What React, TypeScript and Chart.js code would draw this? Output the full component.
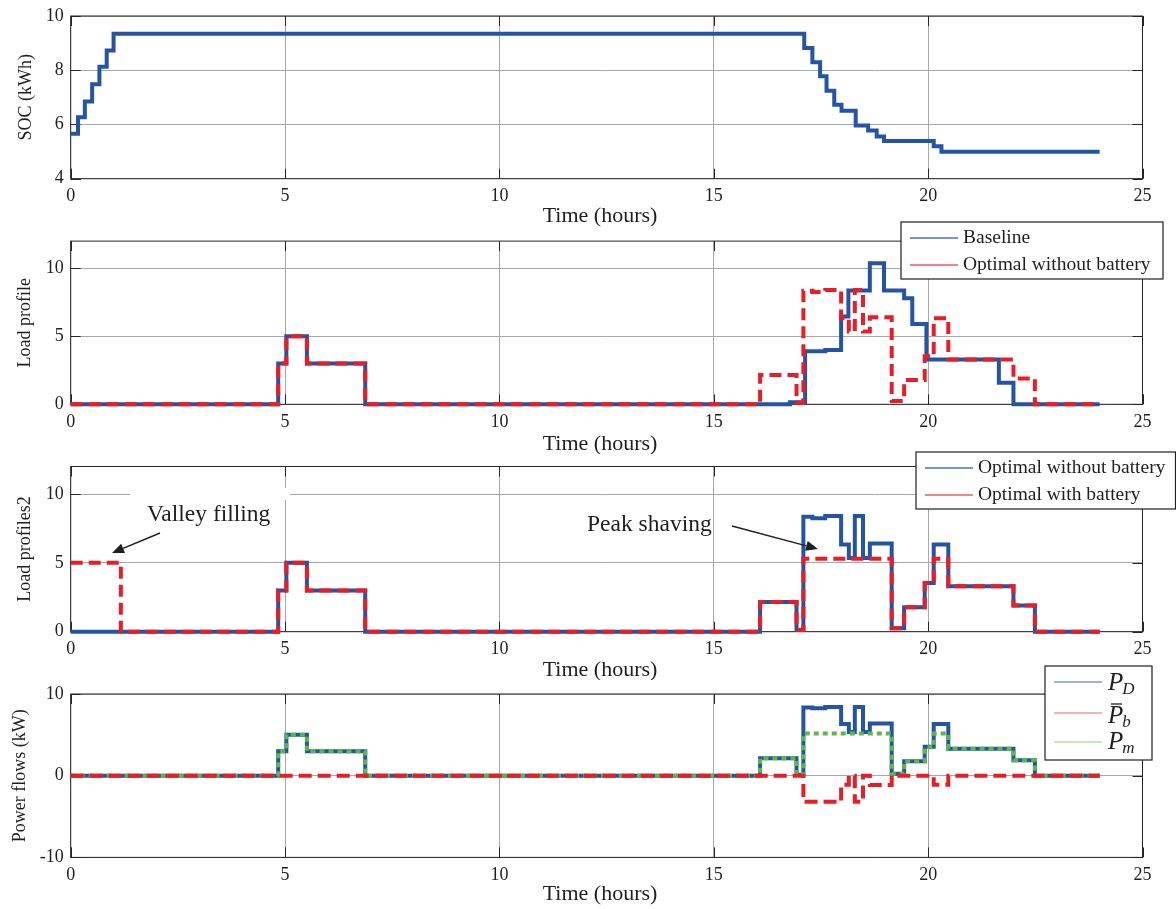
import React, { useEffect, useRef } from 'react';
import { Chart, registerables } from 'chart.js';

Chart.register(...registerables);

// ---------------- data (hours / values) ----------------
const xTickValues = [0, 5, 10, 15, 20, 25];

// Panel 1: battery state of charge
const socT = [0, 0.17, 0.33, 0.5, 0.67, 0.84, 1.0, 17.11, 17.3, 17.48, 17.63, 17.81, 17.98, 18.31, 18.6, 18.8, 18.97, 20.13, 20.31, 24];
const socV = [5.66, 6.27, 6.85, 7.48, 8.13, 8.73, 9.35, 8.82, 8.29, 7.78, 7.24, 6.73, 6.51, 5.96, 5.78, 5.56, 5.39, 5.2, 4.99, 4.99];

// Panel 2: baseline load
const baseT = [0, 4.84, 5.03, 5.51, 6.87, 16.78, 17.13, 17.6, 17.97, 18.14, 18.64, 18.97, 19.44, 19.63, 19.96, 21.65, 21.99, 24];
const baseV = [0, 3.0, 5.0, 3.0, 0, 0.15, 3.9, 4.0, 6.46, 8.36, 10.37, 8.36, 7.8, 5.9, 3.3, 1.59, 0, 0];

// Optimal without battery (panel 2 red, panel 3 blue, panel 4 P_D)
const optT = [0, 4.84, 5.03, 5.51, 6.87, 16.08, 16.93, 17.09, 17.3, 17.6, 17.97, 18.15, 18.29, 18.48, 18.64, 19.15, 19.44, 19.92, 20.13, 20.47, 21.99, 22.49, 24];
const optV = [0, 3.0, 5.0, 3.0, 0, 2.15, 0.12, 8.35, 8.25, 8.4, 6.33, 5.36, 8.4, 5.36, 6.4, 0.25, 1.78, 3.53, 6.33, 3.3, 1.9, 0, 0];

// Optimal with battery (panel 3 red)
const withT = [0, 1.17, 4.84, 5.03, 5.51, 6.87, 16.08, 16.93, 17.09, 19.15, 19.44, 19.92, 20.13, 20.47, 21.99, 22.49, 24];
const withV = [5.0, 0, 3.0, 5.0, 3.0, 0, 2.15, 0.12, 5.3, 0.25, 1.78, 3.53, 5.3, 3.3, 1.9, 0, 0];

// Panel 4: P_m (grid power) and battery power
const pmT = [0, 4.84, 5.03, 5.51, 6.87, 16.08, 16.93, 17.09, 19.15, 19.44, 19.92, 20.13, 20.47, 21.99, 22.49, 24];
const pmV = [0, 3.0, 5.0, 3.0, 0, 2.15, 0.12, 5.15, 0.25, 1.78, 3.47, 5.15, 3.3, 1.9, 0, 0];
const pbT = [0, 17.09, 17.97, 18.15, 18.29, 18.48, 18.64, 19.15, 20.13, 20.47, 24];
const pbV = [0, -3.2, -1.1, 0, -3.2, 0, -1.15, 0, -1.1, 0, 0];

// ---------------- styling ----------------
const W = 1176;
const PLOT_L = 70.7;
const PLOT_R = 1142.5;
const SERIF = "'Liberation Serif', 'Times New Roman', serif";
const BLUE = '#2454a6';
const RED = '#ed1c24';
const GREEN = '#5cb947';
const INK = '#1f1f1f';
const GRID = '#a8a8a8';
const TICK_FONT = 18;
const TITLE_FONT = 18;
const XTITLE_FONT = 22;
const XTITLE_X = 600;

type Series = { t: number[]; v: number[]; color: string; dash?: number[]; order: number };
type PanelSpec = {
  top: number;
  height: number;
  plotTop: number;
  plotBottom: number;
  yMin: number;
  yMax: number;
  yStep: number;
  yTitle: string;
  yTitleX: number;
  xTitleY: number;
  series: Series[];
  overlay?: (ctx: CanvasRenderingContext2D) => void;
};

function legendBox(ctx: CanvasRenderingContext2D, x1: number, y1: number, x2: number, y2: number) {
  ctx.fillStyle = '#ffffff';
  ctx.fillRect(x1, y1, x2 - x1, y2 - y1);
  ctx.strokeStyle = INK;
  ctx.lineWidth = 1.2;
  ctx.strokeRect(x1, y1, x2 - x1, y2 - y1);
}

function legendLine(ctx: CanvasRenderingContext2D, x1: number, x2: number, y: number, color: string) {
  ctx.strokeStyle = color;
  ctx.lineWidth = 1.6;
  ctx.setLineDash([]);
  ctx.beginPath();
  ctx.moveTo(x1, y);
  ctx.lineTo(x2, y);
  ctx.stroke();
}

function legendText(ctx: CanvasRenderingContext2D, x: number, y: number, text: string) {
  ctx.fillStyle = INK;
  ctx.font = `19.5px ${SERIF}`;
  ctx.textAlign = 'left';
  ctx.textBaseline = 'middle';
  ctx.fillText(text, x, y);
}

function arrow(ctx: CanvasRenderingContext2D, x1: number, y1: number, x2: number, y2: number) {
  const ang = Math.atan2(y2 - y1, x2 - x1);
  const hl = 12;
  const hw = 5;
  const bx = x2 - hl * Math.cos(ang);
  const by = y2 - hl * Math.sin(ang);
  ctx.strokeStyle = INK;
  ctx.fillStyle = INK;
  ctx.lineWidth = 1.5;
  ctx.setLineDash([]);
  ctx.beginPath();
  ctx.moveTo(x1, y1);
  ctx.lineTo(bx, by);
  ctx.stroke();
  ctx.beginPath();
  ctx.moveTo(x2, y2);
  ctx.lineTo(bx + hw * Math.sin(ang), by - hw * Math.cos(ang));
  ctx.lineTo(bx - hw * Math.sin(ang), by + hw * Math.cos(ang));
  ctx.closePath();
  ctx.fill();
}

function annot(ctx: CanvasRenderingContext2D, x: number, y: number, text: string) {
  ctx.fillStyle = INK;
  ctx.font = `23.5px ${SERIF}`;
  ctx.textAlign = 'left';
  ctx.textBaseline = 'middle';
  ctx.fillText(text, x, y);
}

function mathP(ctx: CanvasRenderingContext2D, x: number, base: number, sub: string, bar: boolean) {
  ctx.fillStyle = INK;
  ctx.textAlign = 'left';
  ctx.textBaseline = 'alphabetic';
  ctx.font = `italic 25px ${SERIF}`;
  ctx.fillText('P', x, base);
  const pw = ctx.measureText('P').width;
  if (bar) {
    ctx.strokeStyle = INK;
    ctx.lineWidth = 1.3;
    ctx.beginPath();
    ctx.moveTo(x + 3, base - 19);
    ctx.lineTo(x + 14, base - 19);
    ctx.stroke();
  }
  ctx.font = `italic 17px ${SERIF}`;
  ctx.fillText(sub, x + pw - 1, base + 4);
}

const PANELS: PanelSpec[] = [
  {
    top: 0,
    height: 228,
    plotTop: 14.6,
    plotBottom: 178.7,
    yMin: 4,
    yMax: 10,
    yStep: 2,
    yTitle: 'SOC (kWh)',
    yTitleX: 26.7,
    xTitleY: 216,
    series: [{ t: socT, v: socV, color: BLUE, order: 0 }],
  },
  {
    top: 210,
    height: 244,
    plotTop: 241.1,
    plotBottom: 404.3,
    yMin: 0,
    yMax: 12,
    yStep: 5,
    yTitle: 'Load profile',
    yTitleX: 25.5,
    xTitleY: 444,
    series: [
      { t: baseT, v: baseV, color: BLUE, order: 1 },
      { t: optT, v: optV, color: RED, dash: [12, 6], order: 0 },
    ],
    overlay: (ctx) => {
      legendBox(ctx, 901, 222, 1163, 279);
      legendLine(ctx, 910, 958, 238, '#4a74c4');
      legendText(ctx, 963, 238, 'Baseline');
      legendLine(ctx, 910, 958, 265, '#f2585e');
      legendText(ctx, 963, 265, 'Optimal without battery');
    },
  },
  {
    top: 440,
    height: 240,
    plotTop: 466.5,
    plotBottom: 631.7,
    yMin: 0,
    yMax: 12,
    yStep: 5,
    yTitle: 'Load profiles2',
    yTitleX: 25.5,
    xTitleY: 670,
    series: [
      { t: optT, v: optV, color: BLUE, order: 1 },
      { t: withT, v: withV, color: RED, dash: [12, 6], order: 0 },
    ],
    overlay: (ctx) => {
      ctx.fillStyle = '#ffffff';
      ctx.fillRect(130, 488, 160, 12);
      annot(ctx, 147, 515, 'Valley filling');
      arrow(ctx, 160, 533, 112, 553);
      annot(ctx, 587, 525, 'Peak shaving');
      arrow(ctx, 732, 526, 818, 549);
      legendBox(ctx, 916, 452, 1175.5, 509);
      legendLine(ctx, 925, 973, 468, '#4a74c4');
      legendText(ctx, 978, 468, 'Optimal without battery');
      legendLine(ctx, 925, 973, 495, '#f2585e');
      legendText(ctx, 978, 495, 'Optimal with battery');
    },
  },
  {
    top: 655,
    height: 254,
    plotTop: 694,
    plotBottom: 857.4,
    yMin: -10,
    yMax: 10,
    yStep: 10,
    yTitle: 'Power flows (kW)',
    yTitleX: 20,
    xTitleY: 894,
    series: [
      { t: optT, v: optV, color: BLUE, order: 2 },
      { t: pmT, v: pmV, color: GREEN, dash: [5, 4], order: 1 },
      { t: pbT, v: pbV, color: RED, dash: [13, 6], order: 0 },
    ],
    overlay: (ctx) => {
      legendBox(ctx, 1045, 666, 1152, 760);
      legendLine(ctx, 1054, 1102, 682, '#7f9ad0');
      mathP(ctx, 1108, 690, 'D', false);
      legendLine(ctx, 1054, 1102, 713, '#f49a9a');
      mathP(ctx, 1108, 723, 'b', true);
      legendLine(ctx, 1054, 1102, 742, '#b6e0b0');
      mathP(ctx, 1108, 749, 'm', false);
    },
  },
];

function makeConfig(p: PanelSpec): any {
  const xAxisH = p.top + p.height - p.plotBottom;
  const titleLH = TITLE_FONT; // lineHeight 1
  const yTitlePadTop = Math.max(0, p.yTitleX - titleLH / 2);

  const framePlugin = {
    id: 'matlabFrame',
    beforeDatasetsDraw(chart: any) {
      const { ctx, chartArea: a, scales } = chart;
      ctx.save();
      ctx.strokeStyle = '#262626';
      ctx.lineWidth = 1;
      ctx.setLineDash([]);
      ctx.strokeRect(a.left, a.top, a.right - a.left, a.bottom - a.top);
      const TL = 10;
      ctx.beginPath();
      scales.x.ticks.forEach((t: any) => {
        const px = Math.round(scales.x.getPixelForValue(t.value)) + 0.5;
        ctx.moveTo(px, a.bottom);
        ctx.lineTo(px, a.bottom - TL);
        ctx.moveTo(px, a.top);
        ctx.lineTo(px, a.top + TL);
      });
      scales.y.ticks.forEach((t: any) => {
        const py = Math.round(scales.y.getPixelForValue(t.value)) + 0.5;
        ctx.moveTo(a.left, py);
        ctx.lineTo(a.left + TL, py);
        ctx.moveTo(a.right, py);
        ctx.lineTo(a.right - TL, py);
      });
      ctx.stroke();
      ctx.restore();
    },
    afterDraw(chart: any) {
      const ctx = chart.ctx as CanvasRenderingContext2D;
      ctx.save();
      ctx.translate(0, -p.top);
      // x-axis title
      ctx.fillStyle = INK;
      ctx.font = `${XTITLE_FONT}px ${SERIF}`;
      ctx.textAlign = 'center';
      ctx.textBaseline = 'middle';
      ctx.fillText('Time (hours)', XTITLE_X, p.xTitleY);
      if (p.overlay) p.overlay(ctx);
      ctx.restore();
    },
  };

  return {
    type: 'line',
    data: {
      datasets: p.series.map((s) => ({
        data: s.t.map((t, i) => ({ x: t, y: s.v[i] })),
        borderColor: s.color,
        backgroundColor: s.color,
        borderWidth: 4,
        borderDash: s.dash || [],
        stepped: true,
        pointRadius: 0,
        tension: 0,
        fill: false,
        order: s.order,
        clip: 8,
      })),
    },
    options: {
      animation: false,
      responsive: false,
      maintainAspectRatio: false,
      events: [],
      layout: {
        padding: { left: 0, right: W - PLOT_R, top: p.plotTop - p.top, bottom: 0 },
      },
      plugins: {
        legend: { display: false },
        tooltip: { enabled: false },
        title: { display: false },
      },
      scales: {
        x: {
          type: 'linear',
          min: 0,
          max: 25,
          afterBuildTicks: (scale: any) => {
            scale.ticks = xTickValues.map((v) => ({ value: v }));
          },
          ticks: {
            font: { family: SERIF, size: TICK_FONT, lineHeight: 1 },
            color: INK,
            padding: 9,
            maxRotation: 0,
            autoSkip: false,
          },
          grid: { color: GRID, lineWidth: 1, drawTicks: false },
          border: { display: false },
          title: { display: false },
          afterFit: (scale: any) => {
            scale.height = xAxisH;
          },
        },
        y: {
          type: 'linear',
          min: p.yMin,
          max: p.yMax,
          ticks: {
            stepSize: p.yStep,
            includeBounds: false,
            font: { family: SERIF, size: TICK_FONT, lineHeight: 1 },
            color: INK,
            padding: 7,
          },
          grid: { color: GRID, lineWidth: 1, drawTicks: false },
          border: { display: false },
          title: {
            display: true,
            text: p.yTitle,
            font: { family: SERIF, size: TITLE_FONT, lineHeight: 1 },
            color: INK,
            padding: { top: yTitlePadTop, bottom: 0 },
          },
          afterFit: (scale: any) => {
            scale.width = PLOT_L;
          },
        },
      },
    },
    plugins: [framePlugin],
  };
}

function PanelChart({ p }: { p: PanelSpec }) {
  const ref = useRef<HTMLCanvasElement>(null);
  useEffect(() => {
    const canvas = ref.current;
    if (!canvas) return;
    const chart = new Chart(canvas, makeConfig(p));
    return () => chart.destroy();
  }, [p]);
  return (
    <canvas
      ref={ref}
      width={W}
      height={p.height}
      style={{ position: 'absolute', left: 0, top: p.top, width: W, height: p.height }}
    />
  );
}

export default function App() {
  return (
    <div style={{ position: 'absolute', left: 0, top: 0, width: W, height: 909, background: '#ffffff' }}>
      {PANELS.map((p, i) => (
        <PanelChart key={i} p={p} />
      ))}
    </div>
  );
}
